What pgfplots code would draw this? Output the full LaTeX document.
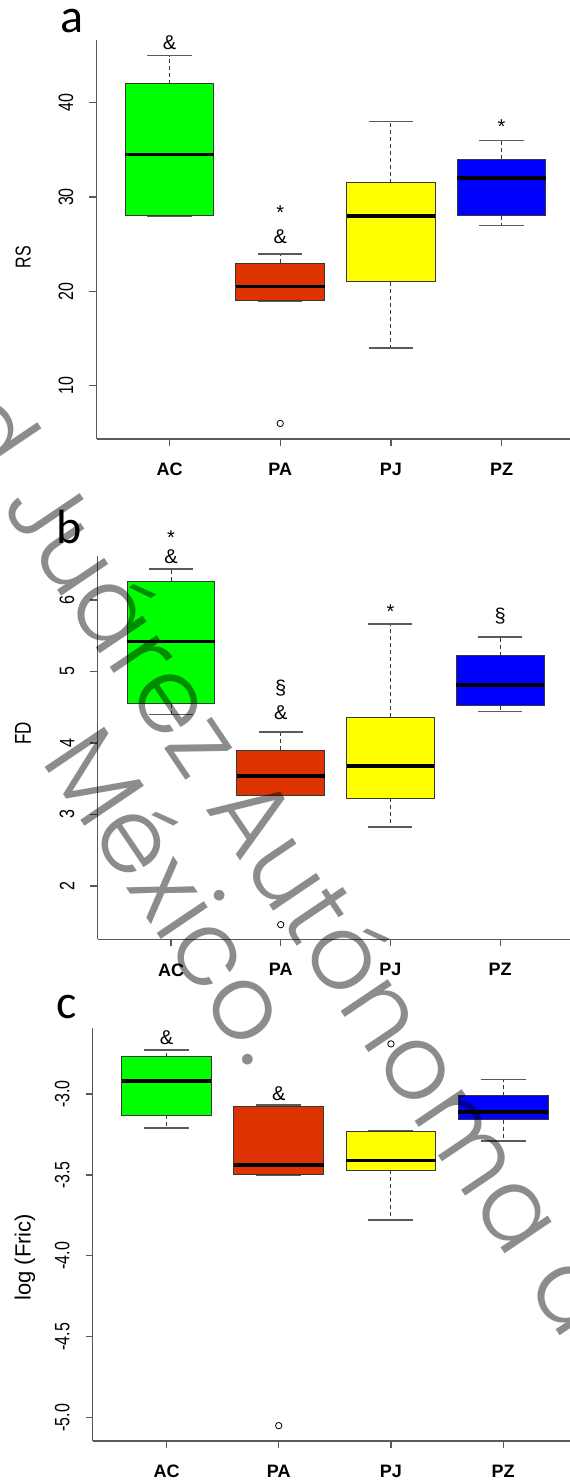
\documentclass[border=0pt]{standalone}
\usepackage{graphicx}
\usepackage{pgfplots}
\pgfplotsset{compat=1.18}
\usepgfplotslibrary{statistics}
\usepackage{fontspec}
\setmainfont{Liberation Sans}
\newfontfamily\letterfont{Carlito}
\newfontfamily\wmfont{Poppins Light}

\definecolor{cAC}{RGB}{0,255,0}
\definecolor{cPA}{RGB}{221,51,0}
\definecolor{cPJ}{RGB}{255,255,0}
\definecolor{cPZ}{RGB}{0,0,255}
\definecolor{axgray}{RGB}{90,90,90}
\definecolor{boxborder}{RGB}{55,55,55}

\tikzset{
  whiskstem/.style={draw=boxborder, line width=1pt, dash pattern=on 4pt off 3pt},
  whiskcap/.style={draw=axgray, line width=1.7pt, solid},
  ann/.style={font=\fontsize{20}{22}\selectfont, inner sep=0pt, anchor=center},
  wm/.style={rotate=-56, inner sep=0pt, font=\wmfont\fontsize{104}{104}\selectfont, text=black, text opacity=0.45},
}

\pgfplotsset{
  rbox/.style={
    scale only axis,
    axis lines*=left,
    axis line style={axgray, line width=1.2pt},
    every tick/.style={axgray, line width=1.2pt},
    tick align=outside,
    major tick length=7pt,
    xtick={1,2,3,4},
    xticklabels={AC,PA,PJ,PZ},
    xticklabel style={font=\fontsize{18}{20}\selectfont\bfseries, inner sep=0pt, anchor=north},
    xticklabel shift=17pt,
    /pgf/number format/assume math mode=true,
    yticklabel={\scalebox{1}[1.3]{\pgfmathprintnumber{\tick}}},
    yticklabel style={rotate=90, anchor=south, font=\fontsize{16}{18}\selectfont, inner sep=0pt},
    yticklabel shift=16pt,
    clip=false,
    boxplot/draw direction=y,
    boxplot/box extend=0.8,
    boxplot/whisker extend=0.4,
    boxplot/every box/.style={draw=boxborder, line width=1pt},
    boxplot/every median/.style={draw=black, line width=3.5pt},
    boxplot/draw/lower whisker/.code={%
      \draw[whiskstem] (boxplot box cs:\pgfplotsboxplotvalue{lower quartile},0.5) -- (boxplot box cs:\pgfplotsboxplotvalue{lower whisker},0.5);
      \draw[whiskcap] (boxplot whisker cs:\pgfplotsboxplotvalue{lower whisker},0) -- (boxplot whisker cs:\pgfplotsboxplotvalue{lower whisker},1);
    },
    boxplot/draw/upper whisker/.code={%
      \draw[whiskstem] (boxplot box cs:\pgfplotsboxplotvalue{upper quartile},0.5) -- (boxplot box cs:\pgfplotsboxplotvalue{upper whisker},0.5);
      \draw[whiskcap] (boxplot whisker cs:\pgfplotsboxplotvalue{upper whisker},0) -- (boxplot whisker cs:\pgfplotsboxplotvalue{upper whisker},1);
    },
  },
  outl/.style={mark=o, mark size=3.2pt, mark options={black, line width=0.8pt}},
}

\begin{document}
\begin{tikzpicture}
\useasboundingbox (0,0) rectangle (570pt,-1483pt);

% ---------------- panel a ----------------
\begin{axis}[rbox,
  at={(96.5pt,-439pt)}, anchor=south west,
  width=473.5pt, height=399pt,
  xmin=0.34, xmax=4.618, ymin=4.35, ymax=46.65,
  ytick={10,20,30,40},
  ylabel={\scalebox{1}[1.35]{RS}},
  every axis y label/.style={at={(axis description cs:-0.155,0.456)}, rotate=90, anchor=center, inner sep=0pt, font=\fontsize{16}{18}\selectfont},
]
\addplot[boxplot prepared={draw position=1, lower whisker=28, lower quartile=28, median=34.5, upper quartile=42, upper whisker=45}, boxplot/every box/.append style={fill=cAC}, outl] coordinates {};
\addplot[boxplot prepared={draw position=2, lower whisker=19, lower quartile=19, median=20.5, upper quartile=23, upper whisker=24}, boxplot/every box/.append style={fill=cPA}, outl] coordinates {(0,6)};
\addplot[boxplot prepared={draw position=3, lower whisker=14, lower quartile=21, median=28, upper quartile=31.5, upper whisker=38}, boxplot/every box/.append style={fill=cPJ}, outl] coordinates {};
\addplot[boxplot prepared={draw position=4, lower whisker=27, lower quartile=28, median=32, upper quartile=34, upper whisker=36}, boxplot/every box/.append style={fill=cPZ}, outl] coordinates {};
\node[ann] at (axis cs:1,46.36) {\&};
\node[ann] at (axis cs:2,28.3) {*};
\node[ann] at (axis cs:2,25.76) {\&};
\node[ann] at (axis cs:4,37.5) {*};
\end{axis}

% ---------------- panel b ----------------
\begin{axis}[rbox,
  at={(97.5pt,-939.3pt)}, anchor=south west,
  width=472.5pt, height=383.3pt,
  xmin=0.33, xmax=4.637, ymin=1.255, ymax=6.615,
  ytick={2,3,4,5,6},
  ylabel={\scalebox{1}[1.35]{FD}},
  every axis y label/.style={at={(axis description cs:-0.1577,0.538)}, rotate=90, anchor=center, inner sep=0pt, font=\fontsize{17}{19}\selectfont},
]
\addplot[boxplot prepared={draw position=1, lower whisker=4.40, lower quartile=4.55, median=5.42, upper quartile=6.26, upper whisker=6.43}, boxplot/every box/.append style={fill=cAC}, outl] coordinates {};
\addplot[boxplot prepared={draw position=2, lower whisker=3.27, lower quartile=3.27, median=3.54, upper quartile=3.90, upper whisker=4.15}, boxplot/every box/.append style={fill=cPA}, outl] coordinates {(0,1.46)};
\addplot[boxplot prepared={draw position=3, lower whisker=2.83, lower quartile=3.23, median=3.68, upper quartile=4.36, upper whisker=5.66}, boxplot/every box/.append style={fill=cPJ}, outl] coordinates {};
\addplot[boxplot prepared={draw position=4, lower whisker=4.44, lower quartile=4.52, median=4.81, upper quartile=5.22, upper whisker=5.48}, boxplot/every box/.append style={fill=cPZ}, outl] coordinates {};
\node[ann] at (axis cs:1,6.87) {*};
\node[ann] at (axis cs:1,6.60) {\&};
\node[ann] at (axis cs:2,4.77) {§};
\node[ann] at (axis cs:2,4.42) {\&};
\node[ann] at (axis cs:3,5.84) {*};
\node[ann] at (axis cs:4,5.77) {§};
\end{axis}

% ---------------- panel c ----------------
\begin{axis}[rbox,
  at={(92.7pt,-1441pt)}, anchor=south west,
  width=477.3pt, height=413pt,
  xmin=0.342, xmax=4.596, ymin=-5.145, ymax=-2.592,
  ytick={-5,-4.5,-4,-3.5,-3},
  /pgf/number format/.cd, fixed, fixed zerofill, precision=1, /pgfplots/.cd,
  ylabel={log (Fric)},
  every axis y label/.style={at={(axis description cs:-0.1418,0.445)}, rotate=90, anchor=center, inner sep=0pt, font=\fontsize{22}{24}\selectfont},
]
\addplot[boxplot prepared={draw position=1, lower whisker=-3.21, lower quartile=-3.13, median=-2.92, upper quartile=-2.77, upper whisker=-2.73}, boxplot/every box/.append style={fill=cAC}, outl] coordinates {};
\addplot[boxplot prepared={draw position=2, lower whisker=-3.50, lower quartile=-3.50, median=-3.44, upper quartile=-3.08, upper whisker=-3.07}, boxplot/every box/.append style={fill=cPA}, outl] coordinates {(0,-5.05)};
\addplot[boxplot prepared={draw position=3, lower whisker=-3.78, lower quartile=-3.47, median=-3.41, upper quartile=-3.23, upper whisker=-3.23}, boxplot/every box/.append style={fill=cPJ}, outl] coordinates {(0,-2.69)};
\addplot[boxplot prepared={draw position=4, lower whisker=-3.29, lower quartile=-3.16, median=-3.11, upper quartile=-3.01, upper whisker=-2.91}, boxplot/every box/.append style={fill=cPZ}, outl] coordinates {};
\node[ann] at (axis cs:1,-2.654) {\&};
\node[ann] at (axis cs:2,-3.0) {\&};
\end{axis}

% panel letters
\node[anchor=base west, inner sep=0pt, font=\letterfont\fontsize{48}{50}\selectfont] at (60pt,-32pt) {a};
\node[anchor=base west, inner sep=0pt, font=\letterfont\fontsize{48}{50}\selectfont] at (56pt,-543pt) {b};
\node[anchor=base west, inner sep=0pt, font=\letterfont\fontsize{48}{50}\selectfont] at (56pt,-1018pt) {c};

% watermark
\begin{scope}
\clip (0,0) rectangle (570pt,-1483pt);
\node[wm, anchor=base west] at (0pt,-505pt) {Juárez Autónoma de Tabasco};
\node[wm, anchor=base east] at (0pt,-505pt) {Universidad\hspace*{0.3em}};
\node[wm, anchor=base west] at (40pt,-760pt) {México.};
\end{scope}
\end{tikzpicture}
\end{document}
